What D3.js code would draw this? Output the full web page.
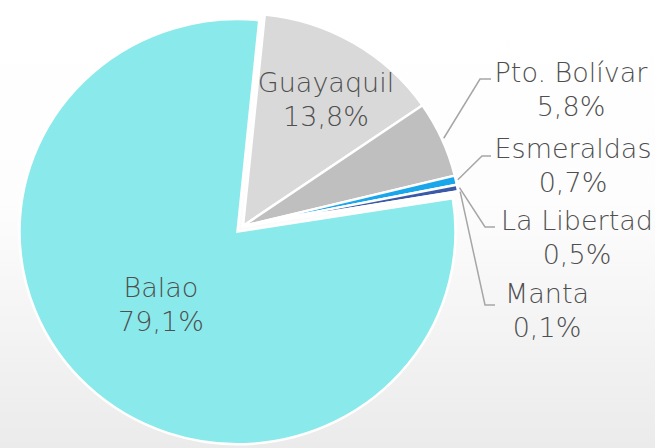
<!DOCTYPE html>
<html>
<head>
<meta charset="utf-8">
<script src="https://cdn.jsdelivr.net/npm/d3@7"></script>
<style>
  body { margin: 0; background: #fff; }
  svg { display: block; }
</style>
</head>
<body>
<script>
// chart data
const ports = ["Guayaquil", "Pto. Bolívar", "Esmeraldas", "La Libertad", "Manta", "Balao"];
const shares = [13.8, 5.8, 0.7, 0.5, 0.1, 79.1];
const labels = ["13,8%", "5,8%", "0,7%", "0,5%", "0,1%", "79,1%"];
const colors = ["#d9d9d9", "#bfbfbf", "#1aa6ea", "#3a5aa8", "#7f9fd6", "#8ae9ea"];

const width = 655, height = 448;
const cx = 243, cy = 226, radius = 218, squash = 0.975;

const svg = d3.select("body").append("svg")
  .attr("width", width)
  .attr("height", height);

// soft grey backdrop like the slide
const defs = svg.append("defs");
const grad = defs.append("linearGradient")
  .attr("id", "bg").attr("x1", 0).attr("y1", 0).attr("x2", 0).attr("y2", 1);
grad.append("stop").attr("offset", "0%").attr("stop-color", "#ffffff");
grad.append("stop").attr("offset", "45%").attr("stop-color", "#fdfdfd");
grad.append("stop").attr("offset", "100%").attr("stop-color", "#ebebeb");
svg.append("rect").attr("width", width).attr("height", height).attr("fill", "url(#bg)");

const data = ports.map((p, i) => ({ port: p, value: shares[i], label: labels[i], color: colors[i] }));

const pie = d3.pie()
  .sort(null)
  .value(d => d.value)
  .startAngle(0.1)
  .endAngle(0.1 + 2 * Math.PI);

const arcs = pie(data);

const arc = d3.arc().innerRadius(0).outerRadius(radius);
const edge = d3.arc().innerRadius(radius + 2).outerRadius(radius + 2);

// the pie is a touch flatter than round in the source
const g = svg.append("g")
  .attr("transform", `translate(${cx},${cy}) scale(1,${squash})`);

g.selectAll("path")
  .data(arcs)
  .enter()
  .append("path")
    .attr("d", arc)
    .attr("fill", d => d.data.color)
    .attr("stroke", "#fff")
    .attr("stroke-width", 2.5)
    .attr("stroke-linejoin", "miter")
    .attr("transform", d => {
      // Balao is pulled out a little
      if (d.data.port !== "Balao") return null;
      const a = (d.startAngle + d.endAngle) / 2;
      return `translate(${Math.sin(a) * 8},${-Math.cos(a) * 8})`;
    });

const font = "'DejaVu Sans', sans-serif";
const textColor = "#4f4f4f";

// label anchors (text centre x, first baseline y, leader elbow)
const layout = {
  "Guayaquil":    { x: 326, y: 92 },
  "Balao":        { x: 161, y: 297 },
  "Pto. Bolívar": { x: 571, y: 82,  elbow: [480, 79],  end: 491 },
  "Esmeraldas":   { x: 573, y: 158, elbow: [482, 156], end: 491 },
  "La Libertad":  { x: 577, y: 230, elbow: [485, 227], end: 495 },
  "Manta":        { x: 547, y: 303, elbow: [485, 305], end: 495 }
};

// leader lines
arcs.forEach(d => {
  const L = layout[d.data.port];
  if (!L.elbow) return;
  const p = edge.centroid(d);
  const start = [cx + p[0], cy + p[1] * squash];
  svg.append("polyline")
    .attr("points", [start, L.elbow, [L.end, L.elbow[1]]].map(q => q.join(",")).join(" "))
    .attr("fill", "none")
    .attr("stroke", "#a6a6a6")
    .attr("stroke-width", 1.5);
});

// labels
arcs.forEach(d => {
  const L = layout[d.data.port];
  const t = svg.append("text")
    .attr("x", L.x)
    .attr("y", L.y)
    .attr("text-anchor", "middle")
    .attr("font-family", font)
    .attr("font-weight", 200)
    .attr("font-size", 27)
    .attr("fill", textColor);
  t.append("tspan").attr("x", L.x).text(d.data.port);
  t.append("tspan").attr("x", L.x).attr("dy", 34).text(d.data.label);
});
</script>
</body>
</html>
